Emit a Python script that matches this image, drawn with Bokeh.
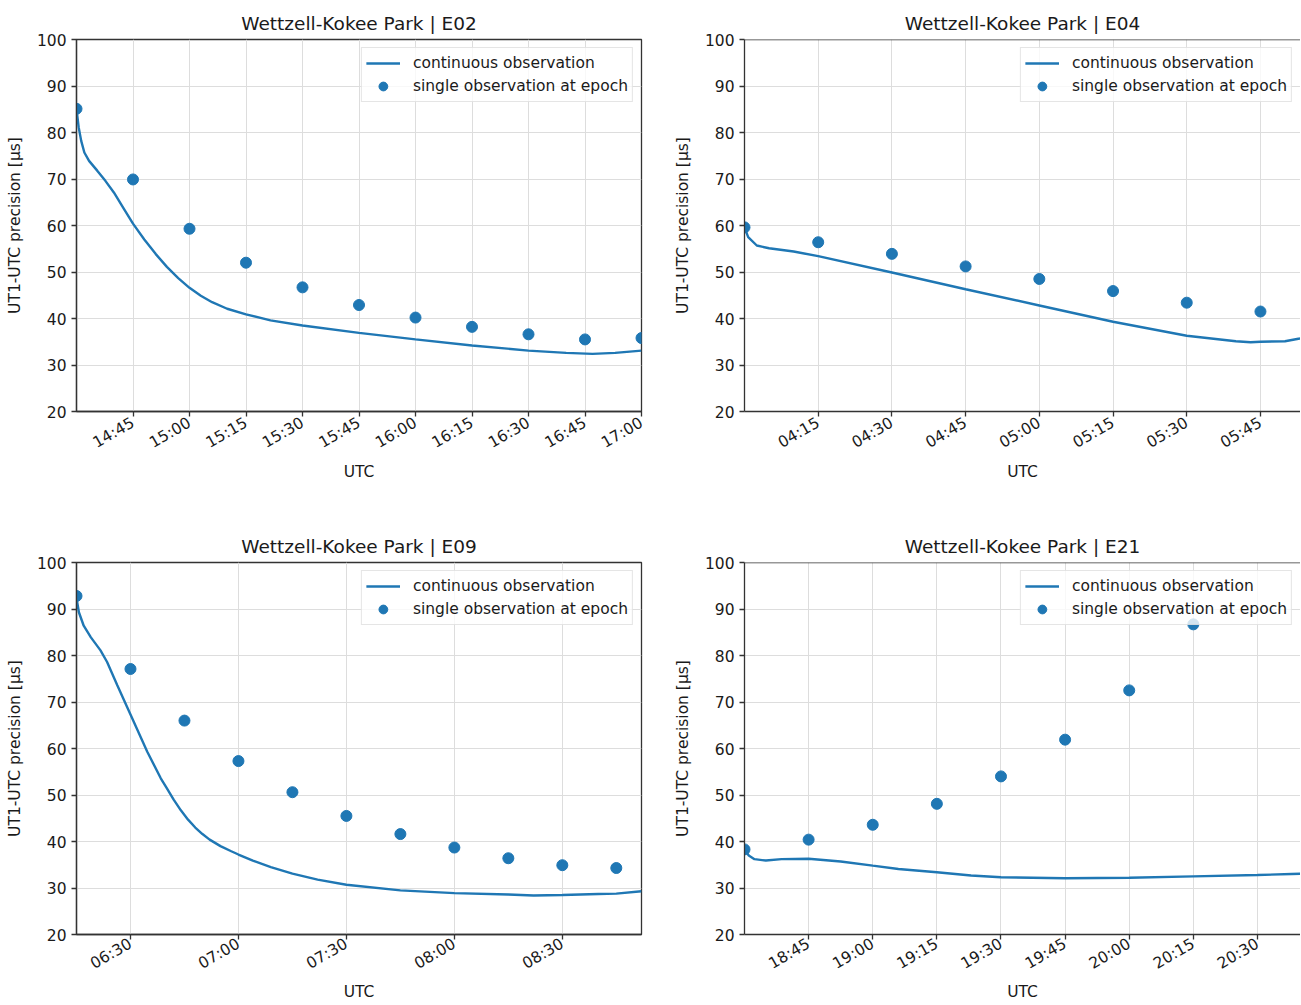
import math
import pandas as pd
from bokeh.plotting import figure
from bokeh.models import (Range1d, FixedTicker, DatetimeTickFormatter, Legend,
                          LegendItem, Span)
from bokeh.layouts import column, row
from bokeh.embed import file_html
from bokeh.resources import INLINE

DAY = "2020-01-01 "
FONT = "DejaVu Sans"
BLUE = "#1f77b4"

y_ticks = [20, 30, 40, 50, 60, 70, 80, 90, 100]
y_label = "UT1-UTC precision [μs]"
x_label = "UTC"
legend_line = "continuous observation"
legend_pts = "single observation at epoch"

# ---- E02 ----
e02_title = "Wettzell-Kokee Park | E02"
e02_xlim = ["14:30", "17:00"]
e02_ticks = ["14:45", "15:00", "15:15", "15:30", "15:45", "16:00", "16:15",
             "16:30", "16:45", "17:00"]
e02_line_t = ["14:30", "14:30:35", "14:31:15", "14:32:05", "14:33:20",
              "14:35:30", "14:37:40", "14:39:55", "14:42:35", "14:45",
              "14:48", "14:51", "14:54", "14:57", "15:00", "15:03", "15:06",
              "15:10", "15:15", "15:21:30", "15:30", "15:45", "16:00", "16:15",
              "16:30", "16:40", "16:47", "16:53", "17:00"]
e02_line_v = [85.0, 81.1, 78.2, 75.7, 73.9, 71.8, 69.6, 67.1, 63.6, 60.4, 57.0,
              53.9, 51.1, 48.7, 46.6, 44.9, 43.5, 42.1, 40.9, 39.6, 38.5, 36.9,
              35.5, 34.2, 33.1, 32.6, 32.4, 32.6, 33.1]
e02_pt_t = ["14:30", "14:45", "15:00", "15:15", "15:30", "15:45", "16:00",
            "16:15", "16:30", "16:45", "17:00"]
e02_pt_v = [85.1, 69.9, 59.3, 52.0, 46.7, 42.9, 40.2, 38.2, 36.6, 35.5, 35.8]

# ---- E04 ----
e04_title = "Wettzell-Kokee Park | E04"
e04_xlim = ["04:00", "05:53:09"]
e04_ticks = ["04:15", "04:30", "04:45", "05:00", "05:15", "05:30", "05:45"]
e04_line_t = ["04:00", "04:00:45", "04:02:30", "04:05", "04:10", "04:15",
              "04:30", "04:45", "05:00", "05:15", "05:30", "05:40", "05:43",
              "05:45", "05:50", "05:53", "05:55"]
e04_line_v = [59.6, 57.5, 55.7, 55.1, 54.4, 53.4, 49.9, 46.3, 42.8, 39.3, 36.3,
              35.1, 34.9, 35.0, 35.1, 35.7, 36.2]
e04_pt_t = ["04:00", "04:15", "04:30", "04:45", "05:00", "05:15", "05:30", "05:45"]
e04_pt_v = [59.6, 56.4, 53.9, 51.2, 48.5, 45.9, 43.4, 41.5]

# ---- E09 ----
e09_title = "Wettzell-Kokee Park | E09"
e09_xlim = ["06:15", "08:52"]
e09_ticks = ["06:30", "07:00", "07:30", "08:00", "08:30"]
e09_line_t = ["06:15", "06:15:40", "06:17", "06:19", "06:21:40", "06:23:30",
              "06:26:20", "06:30", "06:34:40", "06:38:25", "06:40", "06:42",
              "06:44", "06:46", "06:48", "06:50", "06:52", "06:55", "06:58",
              "07:00", "07:04", "07:09", "07:15", "07:22", "07:30", "07:45",
              "08:00", "08:15", "08:22", "08:30", "08:40", "08:45", "08:52"]
e09_line_v = [92.4, 89.3, 86.4, 83.9, 81.1, 78.6, 73.6, 67.3, 59.3, 53.6, 51.6,
              49.0, 46.7, 44.7, 43.0, 41.6, 40.4, 39.0, 37.9, 37.2, 35.9, 34.5,
              33.1, 31.8, 30.7, 29.5, 28.9, 28.6, 28.4, 28.5, 28.7, 28.8, 29.3]
e09_pt_t = ["06:15", "06:30", "06:45", "07:00", "07:15", "07:30", "07:45",
            "08:00", "08:15", "08:30", "08:45"]
e09_pt_v = [92.8, 77.1, 66.0, 57.3, 50.6, 45.5, 41.6, 38.7, 36.4, 34.9, 34.3]

# ---- E21 ----
e21_title = "Wettzell-Kokee Park | E21"
e21_xlim = ["18:30", "20:40:04"]
e21_ticks = ["18:45", "19:00", "19:15", "19:30", "19:45", "20:00", "20:15", "20:30"]
e21_line_t = ["18:30", "18:31", "18:32:20", "18:35", "18:38:40", "18:45",
              "18:52:30", "19:00", "19:06", "19:15", "19:23", "19:30", "19:45",
              "20:00", "20:15", "20:30", "20:38", "20:42"]
e21_line_v = [38.3, 37.0, 36.2, 35.9, 36.2, 36.3, 35.7, 34.8, 34.1, 33.4, 32.7,
              32.3, 32.1, 32.2, 32.5, 32.8, 33.0, 33.1]
e21_pt_t = ["18:30", "18:45", "19:00", "19:15", "19:30", "19:45", "20:00", "20:15"]
e21_pt_v = [38.3, 40.4, 43.6, 48.1, 54.0, 61.9, 72.5, 86.7]


def ms(t):
    return pd.Timestamp(DAY + t).value / 1e6


SPINE = "#333333"
TXT = "#1a1a1a"
GRID = "#dddddd"


def panel(title, xlim, ticks, lt, lv, pt, pv, width, height, bl, br, bt, bb,
          right_spine=True, tick_standoff=5, label_standoff=1):
    p = figure(width=width, height=height, x_axis_type="datetime",
               x_range=Range1d(ms(xlim[0]), ms(xlim[1])),
               y_range=Range1d(20, 100), output_backend="svg",
               toolbar_location=None, min_border_left=bl, min_border_right=br,
               min_border_top=bt, min_border_bottom=bb, title=title)
    p.background_fill_color = "white"
    p.border_fill_color = "white"
    p.title.text_font = FONT
    p.title.text_font_size = "18.5px"
    p.title.text_font_style = "normal"
    p.title.text_color = TXT
    p.title.align = "center"
    p.title.standoff = 12

    p.xaxis.ticker = FixedTicker(ticks=[ms(t) for t in ticks])
    p.yaxis.ticker = FixedTicker(ticks=y_ticks)
    p.xaxis.formatter = DatetimeTickFormatter(
        seconds="%H:%M", minsec="%H:%M", minutes="%H:%M", hourmin="%H:%M",
        hours="%H:%M", days="%H:%M")
    p.xaxis.major_label_orientation = math.pi / 6
    p.xaxis.axis_label = x_label
    p.yaxis.axis_label = y_label
    for ax in (p.xaxis[0], p.yaxis[0]):
        ax.axis_line_color = SPINE
        ax.axis_line_width = 1.3
        ax.major_tick_line_color = SPINE
        ax.major_tick_line_width = 1.3
        ax.major_tick_out = 5
        ax.major_tick_in = 0
        ax.minor_tick_line_color = None
        ax.major_label_text_font = FONT
        ax.major_label_text_font_size = "15.5px"
        ax.major_label_text_color = TXT
        ax.major_label_standoff = 5
        ax.axis_label_text_font = FONT
        ax.axis_label_text_font_size = "15.5px"
        ax.axis_label_text_font_style = "normal"
        ax.axis_label_text_color = TXT
    p.yaxis.axis_label_standoff = 10
    p.xaxis.major_label_standoff = tick_standoff
    p.xaxis.axis_label_standoff = label_standoff

    p.grid.grid_line_color = GRID
    p.grid.grid_line_width = 1

    if right_spine:
        p.outline_line_color = SPINE
        p.outline_line_width = 1.3
    else:
        p.outline_line_color = None
        p.add_layout(Span(location=100, dimension="width", line_color=SPINE,
                          line_width=1.3))

    r_line = p.line([ms(t) for t in lt], lv, line_color=BLUE, line_width=2.4)
    r_pts = p.scatter([ms(t) for t in pt], pv, size=11, marker="circle",
                      fill_color=BLUE, line_color=BLUE)
    leg = Legend(items=[LegendItem(label=legend_line, renderers=[r_line]),
                        LegendItem(label=legend_pts, renderers=[r_pts])],
                 location="top_right")
    leg.label_text_font = FONT
    leg.label_text_font_size = "15.5px"
    leg.label_text_color = TXT
    leg.glyph_width = 34
    leg.glyph_height = 22
    leg.label_height = 22
    leg.label_standoff = 13
    leg.padding = 4
    leg.spacing = 1
    leg.margin = 8
    leg.border_line_color = "#cccccc"
    leg.border_line_width = 1
    leg.background_fill_alpha = 0.8
    p.add_layout(leg)
    return p


TOP_H, BOT_H = 525, 479
LW, RW = 670, 630

p1 = panel(e02_title, e02_xlim, e02_ticks, e02_line_t, e02_line_v, e02_pt_t,
           e02_pt_v, LW, TOP_H, 76, 29, 39, 114)
p2 = panel(e04_title, e04_xlim, e04_ticks, e04_line_t, e04_line_v, e04_pt_t,
           e04_pt_v, RW, TOP_H, 74, 0, 39, 114, right_spine=False)
p3 = panel(e09_title, e09_xlim, e09_ticks, e09_line_t, e09_line_v, e09_pt_t,
           e09_pt_v, LW, BOT_H, 76, 29, 37, 70, tick_standoff=3,
           label_standoff=0)
p4 = panel(e21_title, e21_xlim, e21_ticks, e21_line_t, e21_line_v, e21_pt_t,
           e21_pt_v, RW, BOT_H, 74, 0, 37, 70, right_spine=False,
           tick_standoff=3, label_standoff=0)

layout = column(row(p1, p2, spacing=0), row(p3, p4, spacing=0), spacing=0)

open("out.html", "w").write(file_html(layout, INLINE))
